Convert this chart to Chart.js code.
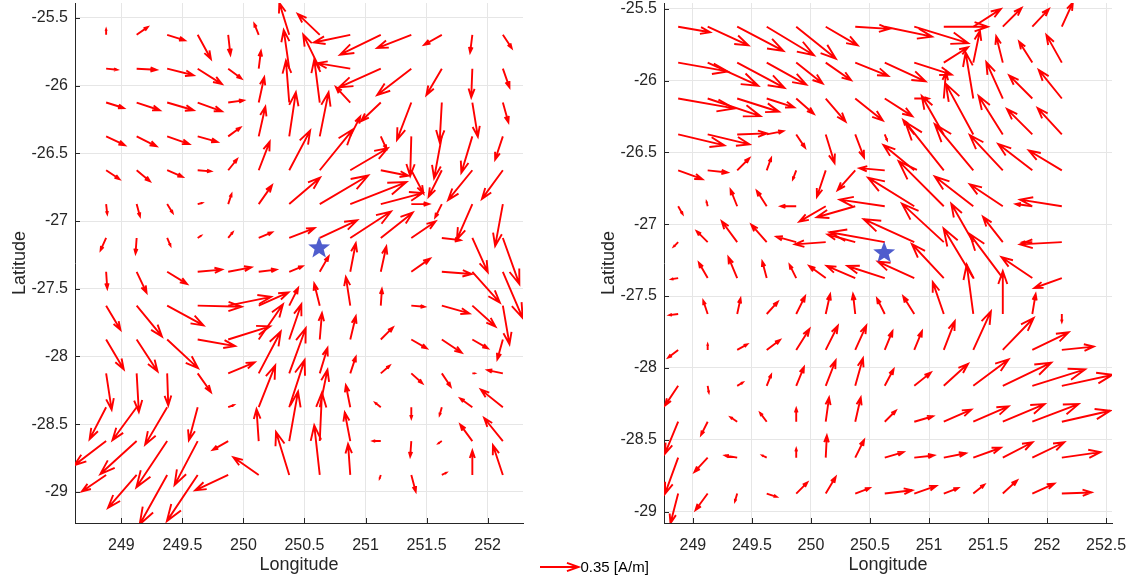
<!DOCTYPE html>
<html>
<head>
<meta charset="utf-8">
<script src="https://cdn.jsdelivr.net/npm/chart.js@4.4.1/dist/chart.umd.min.js"></script>
<style>
  html, body { margin: 0; padding: 0; background: #fff; }
  #wrap { position: relative; width: 1137px; height: 582px; overflow: hidden; }
  #leftBox { position: absolute; left: 0; top: 0; width: 680px; height: 582px; }
  #rightBox { position: absolute; left: 560px; top: 0; width: 577px; height: 582px; }
</style>
</head>
<body>
<div id="wrap">
  <div id="leftBox"><canvas id="leftChart"></canvas></div>
  <div id="rightBox"><canvas id="rightChart"></canvas></div>
</div>
<script>
// grid of measurement points (tail of every arrow)
const lonGrid = [248.875, 249.125, 249.375, 249.625, 249.875, 250.125, 250.375,
                 250.625, 250.875, 251.125, 251.375, 251.625, 251.875, 252.125];
const latGrid = [-25.625, -25.875, -26.125, -26.375, -26.625, -26.875, -27.125,
                 -27.375, -27.625, -27.875, -28.125, -28.375, -28.625, -28.875];

const lonTicksLeft = [249, 249.5, 250, 250.5, 251, 251.5, 252];
const lonTicksRight = [249, 249.5, 250, 250.5, 251, 251.5, 252, 252.5];
const latTicksLeft = [-25.5, -26, -26.5, -27, -27.5, -28, -28.5, -29];
const latTicksRight = [-25.5, -26, -26.5, -27, -27.5, -28, -28.5, -29];

// station marker
const stationLon = 250.62;
const stationLat = -27.2;

// reference arrow
const keyValue = 0.35;
const keyLabel = "0.35 [A/m]";

// east component [A/m], one row per latitude
const uLeft = [
  [0, 0.10, 0.16, 0.12, 0.02, -0.04, -0.09, -0.20, -0.33, -0.37, -0.31, -0.16, -0.02, 0.08],
  [0.10, 0.18, 0.24, 0.22, 0.12, 0.02, -0.05, -0.15, -0.30, -0.38, -0.31, -0.14, -0.01, 0.06],
  [0.16, 0.21, 0.24, 0.22, 0.14, 0.05, -0.03, -0.05, -0.13, -0.18, -0.13, -0.02, 0.05, 0.05],
  [0.17, 0.18, 0.20, 0.18, 0.11, 0.06, 0.06, 0.08, 0.09, 0.05, -0.01, -0.07, -0.10, -0.07],
  [0.12, 0.12, 0.14, 0.12, 0.08, 0.10, 0.19, 0.30, 0.34, 0.25, 0.11, -0.12, -0.22, -0.19],
  [0.01, 0.03, 0.05, 0.04, 0.03, 0.12, 0.28, 0.44, 0.51, 0.38, 0.16, -0.06, -0.14, -0.07],
  [-0.05, -0.01, 0.03, 0.03, 0.04, 0.12, 0.23, 0.34, 0.37, 0.29, 0.22, 0.17, 0.14, 0.15],
  [0.01, 0.09, 0.18, 0.22, 0.21, 0.16, 0.12, 0.08, 0.05, 0.05, 0.17, 0.27, 0.25, 0.18],
  [0.13, 0.23, 0.33, 0.40, 0.39, 0.27, 0.08, -0.05, -0.04, 0.01, 0.12, 0.25, 0.21, 0.06],
  [0.16, 0.19, 0.28, 0.34, 0.38, 0.22, 0.11, 0.02, 0.05, 0.11, 0.14, 0.18, 0.14, -0.05],
  [0.05, 0.02, 0.01, 0.12, 0.24, 0.20, 0.15, 0.07, 0.05, 0.08, 0.10, 0.08, 0.02, -0.14],
  [-0.15, -0.22, -0.20, -0.08, 0.05, 0.15, 0.14, 0.07, -0.04, -0.05, 0, -0.02, -0.11, -0.20],
  [-0.29, -0.33, -0.28, -0.21, -0.14, -0.02, 0.08, 0.02, -0.05, -0.07, -0.01, -0.03, -0.11, -0.17],
  [-0.22, -0.26, -0.25, -0.28, -0.30, -0.23, -0.12, -0.05, -0.02, -0.01, 0.04, 0.04, 0, -0.09]
];
// north component [A/m]
const vLeft = [
  [0.05, 0.07, -0.05, -0.22, -0.18, 0.10, 0.29, 0.19, -0.07, -0.18, -0.12, -0.09, -0.16, -0.12],
  [-0.01, -0.01, -0.06, -0.14, -0.09, 0.16, 0.35, 0.31, 0.05, -0.17, -0.24, -0.24, -0.26, -0.17],
  [-0.05, -0.07, -0.07, -0.08, 0.02, 0.23, 0.38, 0.39, 0.14, -0.17, -0.34, -0.36, -0.31, -0.18],
  [-0.08, -0.09, -0.07, -0.05, 0.08, 0.27, 0.40, 0.40, 0.18, -0.11, -0.36, -0.38, -0.33, -0.21],
  [-0.08, -0.10, -0.06, -0.01, 0.10, 0.26, 0.36, 0.37, 0.20, -0.05, -0.21, -0.24, -0.27, -0.26],
  [-0.09, -0.11, -0.08, 0.01, 0.09, 0.17, 0.24, 0.26, 0.20, 0.10, 0, -0.12, -0.32, -0.38],
  [-0.11, -0.14, -0.07, 0.02, 0.05, 0.05, 0.09, 0.16, 0.24, 0.23, 0.15, -0.02, -0.31, -0.42],
  [-0.15, -0.19, -0.11, 0.02, 0.04, 0.02, 0.05, 0.14, 0.26, 0.23, 0.12, -0.02, -0.28, -0.42],
  [-0.22, -0.28, -0.18, -0.01, 0.08, 0.12, 0.16, 0.20, 0.26, 0.15, -0.01, -0.07, -0.19, -0.35],
  [-0.27, -0.29, -0.26, -0.06, 0.12, 0.32, 0.32, 0.24, 0.21, 0.11, -0.08, -0.12, -0.08, -0.18],
  [-0.33, -0.35, -0.29, -0.17, 0.10, 0.38, 0.41, 0.23, 0.15, 0.07, -0.09, -0.12, 0, 0.03],
  [-0.29, -0.30, -0.34, -0.30, 0.02, 0.38, 0.43, 0.34, 0.20, 0.04, -0.10, -0.07, 0.08, 0.16],
  [-0.22, -0.30, -0.42, -0.40, -0.08, 0.29, 0.45, 0.44, 0.26, 0, -0.14, -0.02, 0.15, 0.21],
  [-0.15, -0.30, -0.45, -0.42, -0.14, 0.16, 0.39, 0.45, 0.28, -0.03, -0.15, 0.02, 0.22, 0.27]
];

const uRight = [
  [0.29, 0.37, 0.42, 0.43, 0.36, 0.29, 0.31, 0.43, 0.49, 0.40, 0.25, 0.17, 0.15, 0.10],
  [0.45, 0.46, 0.43, 0.36, 0.24, 0.23, 0.30, 0.37, 0.34, 0.22, 0.06, -0.06, -0.12, -0.14],
  [0.51, 0.48, 0.38, 0.25, 0.16, 0.18, 0.25, 0.25, 0.13, 0.02, -0.07, -0.15, -0.21, -0.21],
  [0.42, 0.38, 0.27, 0.15, 0.08, 0.08, 0.08, 0.02, -0.10, -0.20, -0.25, -0.22, -0.23, -0.22],
  [0.22, 0.18, 0.11, 0.04, -0.03, -0.08, -0.16, -0.23, -0.28, -0.35, -0.35, -0.30, -0.31, -0.30],
  [0.04, -0.01, -0.06, -0.09, -0.14, -0.24, -0.35, -0.41, -0.42, -0.41, -0.35, -0.30, -0.15, -0.38],
  [-0.04, -0.10, -0.14, -0.14, -0.18, -0.28, -0.25, -0.50, -0.46, -0.38, -0.20, -0.18, -0.09, -0.38],
  [-0.06, -0.08, -0.08, -0.04, -0.06, -0.15, -0.26, -0.34, -0.33, -0.29, -0.27, -0.30, -0.28, -0.25],
  [-0.08, -0.04, 0.03, 0.10, 0.08, 0.04, -0.02, -0.07, -0.10, -0.10, -0.06, 0, 0.03, 0],
  [-0.09, 0, 0.09, 0.12, 0.12, 0.11, 0.10, 0.07, 0.07, 0.10, 0.16, 0.28, 0.33, 0.29],
  [-0.12, 0.01, 0.05, 0.04, 0.07, 0.09, 0.07, 0.08, 0.15, 0.22, 0.32, 0.44, 0.48, 0.46],
  [-0.12, -0.06, -0.06, -0.06, 0, 0.03, 0.05, 0.10, 0.17, 0.25, 0.32, 0.38, 0.42, 0.44],
  [-0.12, -0.12, -0.11, -0.04, 0, 0.01, 0.08, 0.17, 0.18, 0.20, 0.25, 0.27, 0.29, 0.35],
  [-0.07, -0.11, -0.02, 0.09, 0.10, 0.09, 0.13, 0.25, 0.20, 0.13, 0.10, 0.13, 0.20, 0.27]
];
const vRight = [
  [-0.05, -0.17, -0.22, -0.26, -0.29, -0.17, -0.02, -0.09, -0.15, 0, 0.16, 0.17, 0.16, 0.22],
  [-0.08, -0.21, -0.23, -0.20, -0.19, -0.16, -0.12, -0.17, -0.11, 0.14, 0.29, 0.24, 0.19, 0.25],
  [-0.09, -0.16, -0.12, -0.08, -0.14, -0.21, -0.20, -0.16, 0, 0.24, 0.42, 0.33, 0.21, 0.26],
  [-0.10, -0.09, 0.01, 0.03, -0.12, -0.26, -0.21, -0.05, 0.13, 0.35, 0.46, 0.35, 0.23, 0.24],
  [-0.08, -0.02, 0.11, 0.11, -0.08, -0.24, -0.18, 0.02, 0.23, 0.44, 0.42, 0.32, 0.24, 0.18],
  [-0.07, 0.04, 0.15, 0.14, 0, -0.14, -0.10, 0.06, 0.26, 0.41, 0.27, 0.20, 0.02, 0.06],
  [-0.04, 0.10, 0.19, 0.16, 0.05, -0.02, 0.07, 0.09, 0.21, 0.35, 0.35, 0.23, 0, -0.02],
  [-0.01, 0.14, 0.19, 0.15, 0.12, 0.11, 0.11, 0.11, 0.15, 0.31, 0.45, 0.40, 0.19, -0.09],
  [-0.01, 0.12, 0.14, 0.11, 0.16, 0.18, 0.18, 0.14, 0.16, 0.29, 0.45, 0.39, 0.18, -0.07],
  [-0.07, 0.05, 0.05, 0.09, 0.19, 0.22, 0.22, 0.17, 0.17, 0.26, 0.35, 0.29, 0.16, 0.03],
  [-0.18, -0.06, 0.03, 0.10, 0.17, 0.23, 0.25, 0.15, 0.12, 0.20, 0.24, 0.21, 0.15, 0.10],
  [-0.29, -0.12, 0.04, 0.08, 0.12, 0.22, 0.22, 0.10, 0.05, 0.11, 0.14, 0.16, 0.16, 0.10],
  [-0.33, -0.13, 0.02, 0.02, 0.08, 0.20, 0.16, 0.05, 0.02, 0.04, 0.09, 0.14, 0.14, 0.05],
  [-0.27, -0.15, -0.07, -0.03, 0.10, 0.15, 0.05, 0.03, 0.07, 0.05, 0.08, 0.12, 0.09, 0.01]
];

// pixels per A/m for arrow length
const ARROW_SCALE = 110;
const ARROW_COLOR = "#ff0000";
const FONT = "'Liberation Sans', Arial, Helvetica, sans-serif";
const AXIS_COLOR = "#262626";

function drawArrow(ctx, x0, y0, x1, y1) {
  const dx = x1 - x0;
  const dy = y1 - y0;
  const len = Math.hypot(dx, dy);
  if (len < 0.5) return;
  const ux = dx / len;
  const uy = dy / len;
  const hl = 0.3 * len;
  const hw = hl * 0.35;
  ctx.beginPath();
  ctx.moveTo(x0, y0);
  ctx.lineTo(x1, y1);
  ctx.moveTo(x1 - hl * ux + hw * uy, y1 - hl * uy - hw * ux);
  ctx.lineTo(x1, y1);
  ctx.lineTo(x1 - hl * ux - hw * uy, y1 - hl * uy + hw * ux);
  ctx.stroke();
}

function drawStar(ctx, cx, cy, rOut, rIn) {
  ctx.beginPath();
  for (let i = 0; i < 10; i++) {
    const r = i % 2 === 0 ? rOut : rIn;
    const a = -Math.PI / 2 + (i * Math.PI) / 5;
    const px = cx + r * Math.cos(a);
    const py = cy + r * Math.sin(a);
    if (i === 0) ctx.moveTo(px, py);
    else ctx.lineTo(px, py);
  }
  ctx.closePath();
  ctx.fill();
}

// quiver arrows, station star and inward tick marks
const quiverPlugin = {
  id: "quiver",
  afterDatasetsDraw(chart, args, opts) {
    const ctx = chart.ctx;
    const xs = chart.scales.x;
    const ys = chart.scales.y;
    const area = chart.chartArea;

    ctx.save();
    ctx.beginPath();
    ctx.rect(area.left, area.top, area.right - area.left, area.bottom - area.top);
    ctx.clip();
    ctx.strokeStyle = ARROW_COLOR;
    ctx.lineWidth = 1.9;
    ctx.lineJoin = "miter";
    latGrid.forEach((lat, j) => {
      lonGrid.forEach((lon, i) => {
        const u = opts.u[j][i];
        const v = opts.v[j][i];
        if (u === null || v === null) return;
        const x0 = xs.getPixelForValue(lon);
        const y0 = ys.getPixelForValue(lat);
        drawArrow(ctx, x0, y0, x0 + u * ARROW_SCALE, y0 - v * ARROW_SCALE);
      });
    });
    ctx.fillStyle = "rgba(60, 75, 200, 0.9)";
    drawStar(ctx, xs.getPixelForValue(stationLon), ys.getPixelForValue(stationLat), 11.5, 4.8);
    ctx.restore();

    // short tick marks pointing into the axes
    ctx.save();
    ctx.strokeStyle = AXIS_COLOR;
    ctx.lineWidth = 1;
    ctx.beginPath();
    xs.ticks.forEach((t) => {
      const x = Math.round(xs.getPixelForValue(t.value)) + 0.5;
      ctx.moveTo(x, area.bottom);
      ctx.lineTo(x, area.bottom - 5);
    });
    ys.ticks.forEach((t) => {
      const y = Math.round(ys.getPixelForValue(t.value)) + 0.5;
      ctx.moveTo(area.left, y);
      ctx.lineTo(area.left + 5, y);
    });
    ctx.stroke();
    ctx.restore();

    if (opts.key) {
      const kx = 540;
      const ky = 567;
      ctx.save();
      ctx.strokeStyle = ARROW_COLOR;
      ctx.lineWidth = 1.9;
      drawArrow(ctx, kx, ky, kx + keyValue * ARROW_SCALE, ky);
      ctx.fillStyle = "#000";
      ctx.font = "15px " + FONT;
      ctx.textBaseline = "middle";
      ctx.fillText(keyLabel, kx + keyValue * ARROW_SCALE + 2, ky + 1);
      ctx.restore();
    }
  },
};

function buildChart(canvasId, cfg) {
  const tails = [];
  latGrid.forEach((lat) => lonGrid.forEach((lon) => tails.push({ x: lon, y: lat })));

  return new Chart(document.getElementById(canvasId), {
    type: "scatter",
    data: {
      datasets: [{ data: tails, pointRadius: 0, pointHoverRadius: 0 }],
    },
    options: {
      responsive: true,
      maintainAspectRatio: false,
      animation: false,
      devicePixelRatio: 1,
      events: [],
      layout: { padding: { left: 0, right: cfg.padRight, top: 3, bottom: 0 } },
      plugins: {
        legend: { display: false },
        tooltip: { enabled: false },
        quiver: { u: cfg.u, v: cfg.v, key: cfg.key },
      },
      scales: {
        x: {
          type: "linear",
          min: cfg.xMin,
          max: cfg.xMax,
          afterBuildTicks: (scale) => {
            scale.ticks = cfg.xTicks.map((t) => ({ value: t }));
          },
          afterFit: (scale) => {
            scale.height = 59;
            scale.paddingLeft = 0;
            scale.paddingRight = 0;
          },
          grid: { color: "#e6e6e6", drawTicks: false },
          border: { color: AXIS_COLOR, width: 1 },
          ticks: {
            color: AXIS_COLOR,
            font: { family: FONT, size: 16 },
            padding: 13,
            maxRotation: 0,
            autoSkip: false,
            callback: (v) => String(v),
          },
          title: {
            display: true,
            text: "Longitude",
            color: AXIS_COLOR,
            font: { family: FONT, size: 18 },
            padding: { top: 0, bottom: 6 },
          },
        },
        y: {
          type: "linear",
          min: cfg.yMin,
          max: cfg.yMax,
          afterBuildTicks: (scale) => {
            scale.ticks = cfg.yTicks.map((t) => ({ value: t }));
          },
          afterFit: (scale) => {
            scale.width = cfg.yWidth;
            scale.paddingTop = 0;
            scale.paddingBottom = 0;
          },
          grid: { color: "#e6e6e6", drawTicks: false },
          border: { color: AXIS_COLOR, width: 1 },
          ticks: {
            color: AXIS_COLOR,
            font: { family: FONT, size: 16 },
            padding: 7,
            autoSkip: false,
            callback: (v) => String(v),
          },
          title: {
            display: true,
            text: "Latitude",
            color: AXIS_COLOR,
            font: { family: FONT, size: 18 },
            padding: { top: cfg.yTitlePad, bottom: 0 },
          },
        },
      },
    },
    plugins: [quiverPlugin],
  });
}

buildChart("leftChart", {
  u: uLeft,
  v: vLeft,
  key: true,
  xMin: 248.62,
  xMax: 252.29,
  yMin: -29.23,
  yMax: -25.39,
  xTicks: lonTicksLeft,
  yTicks: latTicksLeft,
  yWidth: 75,
  yTitlePad: 9,
  padRight: 157,
});

buildChart("rightChart", {
  u: uRight,
  v: vRight,
  key: false,
  xMin: 248.755,
  xMax: 252.55,
  yMin: -29.08,
  yMax: -25.46,
  xTicks: lonTicksRight,
  yTicks: latTicksRight,
  yWidth: 104,
  yTitlePad: 38,
  padRight: 25,
});
</script>
</body>
</html>
